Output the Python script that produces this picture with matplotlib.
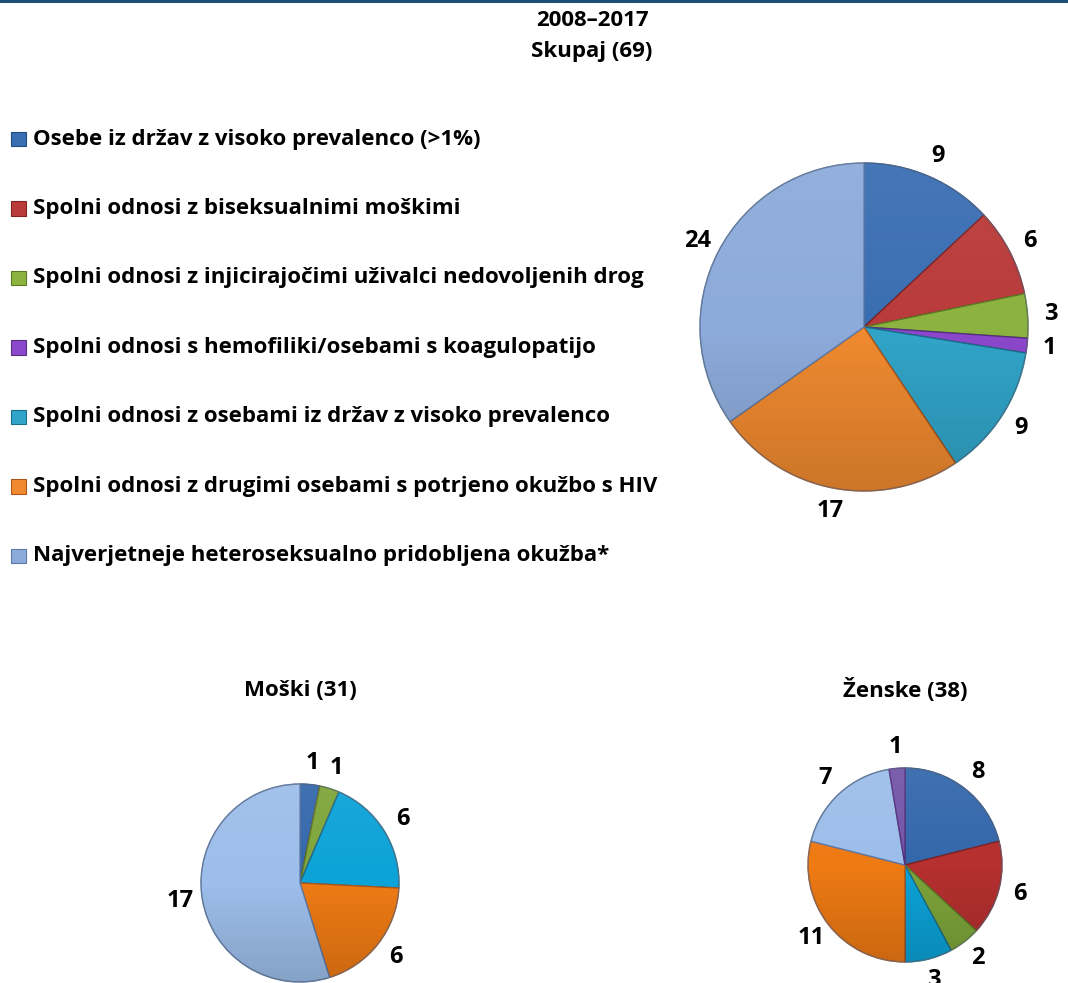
import numpy as np
import matplotlib
matplotlib.use("Agg")
import matplotlib.pyplot as plt
from matplotlib.patches import Rectangle, Circle

plt.rcParams['font.family'] = ['Open Sans', 'DejaVu Sans']
plt.rcParams['font.weight'] = 'bold'

# ---- data ----
categories = [
    "Osebe iz držav z visoko prevalenco (>1%)",
    "Spolni odnosi z biseksualnimi moškimi",
    "Spolni odnosi z injicirajočimi uživalci nedovoljenih drog",
    "Spolni odnosi s hemofiliki/osebami s koagulopatijo",
    "Spolni odnosi z osebami iz držav z visoko prevalenco",
    "Spolni odnosi z drugimi osebami s potrjeno okužbo s HIV",
    "Najverjetneje heteroseksualno pridobljena okužba*",
]
total_values = [9, 6, 3, 1, 9, 17, 24]
male_values = [1, 0, 1, 0, 6, 6, 17]
female_values = [8, 6, 2, 1, 3, 11, 7]
# order in which the categories are drawn clockwise from 12 o'clock
total_order = [0, 1, 2, 3, 4, 5, 6]
male_order = [0, 1, 2, 3, 4, 5, 6]
female_order = [0, 1, 2, 4, 5, 6, 3]

period_title = "2008–2017"
total_title = "Skupaj (69)"
male_title = "Moški (31)"
female_title = "Ženske (38)"

main_colors = ["#3A6EB3", "#BA3B3B", "#8CB33F", "#8C48CC", "#31A5C9", "#F08A30", "#8DABDA"]
small_colors = ["#3468AC", "#B5302F", "#7EA53A", "#7456A8", "#0CA3D8", "#EE7A14", "#9DBEEA"]
edge_colors = ["#244B80", "#7E2222", "#5C7A25", "#55307F", "#1A6F8C", "#A8561A", "#5E7BA8"]

W, H = 1068, 983
fig = plt.figure(figsize=(W / 100, H / 100), dpi=100)
fig.patch.set_facecolor("white")

# top border line
fig.add_artist(Rectangle((0, 1 - 3 / H), 1, 3 / H, transform=fig.transFigure,
                         facecolor="#1B4F78", edgecolor="none"))

def px(x, y):
    return x / W, 1 - y / H

def pie_axes(cx, cy, r, values, order, palette, labeldist, fs=17, k=1.5):
    size = 2 * r * k
    ax = fig.add_axes([(cx - r * k) / W, 1 - (cy + r * k) / H, size / W, size / H])
    vals = [values[i] for i in order]
    cols = [palette[i] for i in order]
    ecs = [edge_colors[i] for i in order]
    labels = [str(v) if v else "" for v in vals]
    wedges, texts = ax.pie(vals, labels=labels, colors=cols, startangle=90,
                           counterclock=False, radius=1, labeldistance=labeldist,
                           wedgeprops=dict(linewidth=1.0),
                           textprops=dict(fontsize=fs, fontweight="bold", color="black"))
    for w, ec in zip(wedges, ecs):
        w.set_edgecolor(ec)
    for t in texts:
        t.set_horizontalalignment("center")
        t.set_verticalalignment("center")
    # soft vertical shading (slightly lighter top, darker bottom)
    n = 256
    t = np.linspace(0, 1, n)[:, None]  # 0 top -> 1 bottom
    img = np.zeros((n, 2, 4))
    top = t < 0.5
    img[..., :3] = np.where(top[..., None], 1.0, 0.0)
    img[..., 3] = np.where(top, (0.5 - t) * 0.12, (t - 0.5) * 0.3)
    im = ax.imshow(img, extent=(-1, 1, -1, 1), origin="upper", zorder=2,
                   interpolation="bilinear", aspect="auto")
    clip = Circle((0, 0), 1, transform=ax.transData)
    im.set_clip_path(clip)
    outline = Circle((0, 0), 1, facecolor="none", edgecolor="#6A7A90",
                     linewidth=0.8, alpha=0.6, zorder=3)
    ax.add_patch(outline)
    ax.set_xlim(-k, k)
    ax.set_ylim(-k, k)
    ax.set_aspect("equal")
    ax.axis("off")
    return ax

# titles
fig.text(*px(592, 21), period_title, ha="center", va="center", fontsize=16, fontweight="bold")
fig.text(*px(592, 51), total_title, ha="center", va="center", fontsize=16, fontweight="bold")
fig.text(*px(300, 690), male_title, ha="center", va="center", fontsize=16, fontweight="bold")
fig.text(*px(905, 690), female_title, ha="center", va="center", fontsize=16, fontweight="bold")

# legend
for i, (lab, c, ec) in enumerate(zip(categories, main_colors, edge_colors)):
    y = 139 + i * 69.5
    x0, y0 = px(11, y + 7)
    fig.add_artist(Rectangle((x0, y0), 15 / W, 14 / H, transform=fig.transFigure,
                             facecolor=c, edgecolor=ec, linewidth=0.8))
    fig.text(*px(33, y), lab, ha="left", va="center", fontsize=16, fontweight="bold")

# pies
pie_axes(864, 327, 164, total_values, total_order, main_colors, 1.14)
pie_axes(300, 883, 99, male_values, male_order, small_colors, 1.22)
pie_axes(905, 865, 97, female_values, female_order, small_colors, 1.22)

fig.savefig("out.png", dpi=100, facecolor="white")
